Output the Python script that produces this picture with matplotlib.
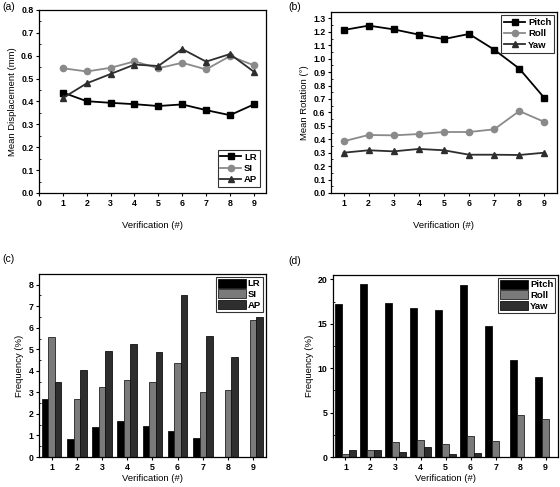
import matplotlib.pyplot as plt
import numpy as np
from matplotlib.ticker import MultipleLocator

plt.rcParams['font.family'] = ['Liberation Sans', 'DejaVu Sans']

verif = [1, 2, 3, 4, 5, 6, 7, 8, 9]

# (a) mean displacement (mm)
disp_lr = [0.439, 0.401, 0.394, 0.388, 0.380, 0.387, 0.362, 0.340, 0.387]
disp_si = [0.545, 0.531, 0.547, 0.575, 0.545, 0.569, 0.540, 0.598, 0.558]
disp_ap = [0.415, 0.479, 0.520, 0.561, 0.555, 0.629, 0.574, 0.607, 0.530]

# (b) mean rotation (deg)
rot_pitch = [1.213, 1.246, 1.218, 1.179, 1.146, 1.184, 1.067, 0.926, 0.707]
rot_roll = [0.385, 0.432, 0.429, 0.439, 0.454, 0.454, 0.474, 0.610, 0.529]
rot_yaw = [0.300, 0.318, 0.310, 0.328, 0.318, 0.285, 0.285, 0.283, 0.300]

# (c) frequency (%) translations
freq_lr = [2.67, 0.82, 1.37, 1.65, 1.44, 1.21, 0.90, 0.0, 0.0]
freq_si = [5.57, 2.70, 3.26, 3.59, 3.46, 4.38, 3.04, 3.09, 6.38]
freq_ap = [3.48, 4.02, 4.91, 5.25, 4.86, 7.52, 5.64, 4.63, 6.52]

# (d) frequency (%) rotations
freq_pitch = [17.2, 19.5, 17.35, 16.8, 16.6, 19.4, 14.8, 10.95, 8.95]
freq_roll = [0.30, 0.82, 1.69, 1.95, 1.46, 2.40, 1.80, 4.72, 4.27]
freq_yaw = [0.82, 0.82, 0.56, 1.12, 0.30, 0.41, 0.0, 0.0, 0.0]

BLACK = '#000000'
GRAY = '#8a8a8a'
DARK = '#2e2e2e'
TICK_FS = 6.3
LABEL_FS = 6.8


def style_axes(ax):
    ax.tick_params(which='major', direction='out', length=2.5, width=0.8,
                   labelsize=TICK_FS, pad=1.5)
    ax.tick_params(which='minor', direction='in', length=1.5, width=0.6)
    for lbl in ax.get_xticklabels() + ax.get_yticklabels():
        lbl.set_fontweight('bold')
    for s in ax.spines.values():
        s.set_linewidth(0.9)


def style_legend(leg):
    leg.get_frame().set_edgecolor('black')
    leg.get_frame().set_linewidth(0.8)
    for t in leg.get_texts():
        t.set_fontweight('bold')


fig = plt.figure(figsize=(5.6, 4.87), dpi=100)

# ---- (a) ----
ax = fig.add_axes([0.0696, 0.6037, 0.405, 0.376])
ax.plot(verif, disp_lr, '-s', color=BLACK, ms=4.5, lw=1.3, label='LR')
ax.plot(verif, disp_si, '-o', color=GRAY, ms=4.5, lw=1.3, label='SI')
ax.plot(verif, disp_ap, '-^', color=DARK, ms=4.5, lw=1.3, label='AP')
ax.set_xlim(0, 9.5)
ax.set_ylim(0, 0.8)
ax.set_xticks(range(0, 10))
ax.yaxis.set_major_locator(MultipleLocator(0.1))
ax.yaxis.set_minor_locator(MultipleLocator(0.05))
ax.yaxis.set_major_formatter(plt.FormatStrFormatter('%.1f'))
ax.set_xlabel('Verification (#)', fontsize=LABEL_FS, labelpad=10)
ax.set_ylabel('Mean Displacement (mm)', fontsize=LABEL_FS, labelpad=3)
style_axes(ax)
leg = ax.legend(loc='lower right', fontsize=6.8, fancybox=False,
                handlelength=2.2, borderpad=0.3, labelspacing=0.25,
                handletextpad=0.3, borderaxespad=0.6)
style_legend(leg)

# ---- (b) ----
ax = fig.add_axes([0.591, 0.6037, 0.4036, 0.371])
ax.plot(verif, rot_pitch, '-s', color=BLACK, ms=4.5, lw=1.3, label='Pitch')
ax.plot(verif, rot_roll, '-o', color=GRAY, ms=4.5, lw=1.3, label='Roll')
ax.plot(verif, rot_yaw, '-^', color=DARK, ms=4.5, lw=1.3, label='Yaw')
ax.set_xlim(0.5, 9.5)
ax.set_ylim(0, 1.345)
ax.set_xticks(verif)
ax.yaxis.set_major_locator(MultipleLocator(0.1))
ax.yaxis.set_minor_locator(MultipleLocator(0.05))
ax.yaxis.set_major_formatter(plt.FormatStrFormatter('%.1f'))
ax.set_xlabel('Verification (#)', fontsize=LABEL_FS, labelpad=10)
ax.set_ylabel('Mean Rotation (°)', fontsize=LABEL_FS, labelpad=3)
style_axes(ax)
leg = ax.legend(loc='upper right', fontsize=6.8, fancybox=False,
                handlelength=2.2, borderpad=0.3, labelspacing=0.25,
                handletextpad=0.3, borderaxespad=0.3)
style_legend(leg)

# ---- (c) ----
x = np.array(verif)
w = 0.26
ax = fig.add_axes([0.0696, 0.0616, 0.405, 0.376])
ax.bar(x - w, freq_lr, w, color=BLACK, edgecolor='#111111', lw=0.6, label='LR')
ax.bar(x, freq_si, w, color='#7a7a7a', edgecolor='#222222', lw=0.6, label='SI')
ax.bar(x + w, freq_ap, w, color=DARK, edgecolor='#111111', lw=0.6, label='AP')
ax.set_xlim(0.5, 9.5)
ax.set_ylim(0, 8.5)
ax.set_xticks(verif)
ax.yaxis.set_major_locator(MultipleLocator(1))
ax.yaxis.set_minor_locator(MultipleLocator(0.5))
ax.set_xlabel('Verification (#)', fontsize=LABEL_FS, labelpad=2)
ax.set_ylabel('Frequency (%)', fontsize=LABEL_FS, labelpad=3)
style_axes(ax)
leg = ax.legend(loc='upper right', fontsize=6.8, fancybox=False,
                handlelength=3.0, handleheight=1.1, borderpad=0.2,
                labelspacing=0.1, handletextpad=0.2, borderaxespad=0.3)
style_legend(leg)

# ---- (d) ----
w = 0.29
ax = fig.add_axes([0.5946, 0.0616, 0.402, 0.374])
ax.bar(x - w, freq_pitch, w, color=BLACK, edgecolor='#111111', lw=0.6, label='Pitch')
ax.bar(x, freq_roll, w, color='#7a7a7a', edgecolor='#222222', lw=0.6, label='Roll')
ax.bar(x + w, freq_yaw, w, color=DARK, edgecolor='#111111', lw=0.6, label='Yaw')
ax.set_xlim(0.5, 9.5)
ax.set_ylim(0, 20.5)
ax.set_xticks(verif)
ax.yaxis.set_major_locator(MultipleLocator(5))
ax.yaxis.set_minor_locator(MultipleLocator(2.5))
ax.set_xlabel('Verification (#)', fontsize=LABEL_FS, labelpad=2)
ax.set_ylabel('Frequency (%)', fontsize=LABEL_FS, labelpad=3)
style_axes(ax)
leg = ax.legend(loc='upper right', fontsize=6.8, fancybox=False,
                handlelength=3.0, handleheight=1.1, borderpad=0.2,
                labelspacing=0.1, handletextpad=0.2, borderaxespad=0.3)
style_legend(leg)

# panel letters
fig.text(0.004, 0.995, '(a)', fontsize=7.5, va='top')
fig.text(0.515, 0.995, '(b)', fontsize=7.5, va='top')
fig.text(0.004, 0.478, '(c)', fontsize=7.5, va='top')
fig.text(0.515, 0.474, '(d)', fontsize=7.5, va='top')

fig.savefig('out.png', dpi=100)
